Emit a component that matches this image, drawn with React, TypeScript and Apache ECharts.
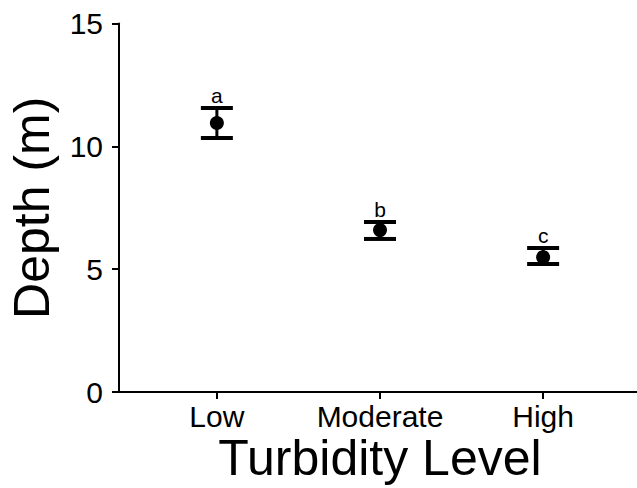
import React, { useEffect, useRef } from "react";
import * as echarts from "echarts";

const categories = ["Low", "Moderate", "High"];
const means = [10.95, 6.59, 5.49];
const lowers = [10.34, 6.23, 5.21];
const uppers = [11.56, 6.92, 5.86];
const letters = ["a", "b", "c"];
const yTicks = [0, 5, 10, 15];

const FONT = "'Liberation Sans', Arial, Helvetica, sans-serif";

export default function App() {
  const ref = useRef<HTMLDivElement>(null);

  useEffect(() => {
    if (!ref.current) return;
    const chart = echarts.init(ref.current, undefined, { renderer: "svg" });

    const errData = categories.map((c, i) => [i + 1, lowers[i], uppers[i], i]);
    const pointData = categories.map((c, i) => [i + 1, means[i]]);

    const option: any = {
      animation: false,
      backgroundColor: "#ffffff",
      grid: { left: 119, right: 0, top: 23.5, bottom: 96, containLabel: false, outerBoundsMode: "none" },
      xAxis: {
        type: "value",
        min: 0.4,
        max: 3.6,
        name: "Turbidity Level",
        nameLocation: "middle",
        nameGap: 41,
        nameMoveOverlap: false,
        nameTextStyle: { fontFamily: FONT, fontSize: 50, color: "#000", lineHeight: 50 },
        splitLine: { show: false },
        axisLine: { onZero: false, lineStyle: { color: "#000", width: 2 } },
        axisTick: { show: true, customValues: [1, 2, 3], length: 7, lineStyle: { color: "#000", width: 2 } },
        axisLabel: {
          customValues: [1, 2, 3],
          formatter: (v: number) => categories[Math.round(v) - 1] ?? "",
          fontFamily: FONT,
          fontSize: 30,
          lineHeight: 30,
          color: "#000",
          margin: 9,
        },
      },
      yAxis: {
        type: "value",
        min: 0,
        max: 15,
        interval: 5,
        name: "Depth (m)",
        nameLocation: "middle",
        nameRotate: 90,
        nameGap: 62,
        nameMoveOverlap: false,
        nameTextStyle: { fontFamily: FONT, fontSize: 50, color: "#000" },
        splitLine: { show: false },
        axisLine: { show: true, onZero: false, lineStyle: { color: "#000", width: 2 } },
        axisTick: { show: true, length: 7, lineStyle: { color: "#000", width: 2 } },
        axisLabel: {
          fontFamily: FONT,
          fontSize: 30,
          color: "#000",
          margin: 16,
          formatter: (v: number) => (yTicks.includes(v) ? String(v) : ""),
        },
      },
      series: [
        {
          type: "custom",
          data: errData,
          renderItem: (params: any, api: any) => {
            const x = api.value(0);
            const lo = api.coord([x, api.value(1)]);
            const hi = api.coord([x, api.value(2)]);
            const idx = api.value(3);
            const hw = 16;
            const style = { stroke: "#000", lineWidth: 4 };
            return {
              type: "group",
              children: [
                { type: "line", shape: { x1: lo[0], y1: lo[1], x2: hi[0], y2: hi[1] }, style: { stroke: "#000", lineWidth: 3 } },
                { type: "line", shape: { x1: lo[0] - hw, y1: lo[1], x2: lo[0] + hw, y2: lo[1] }, style },
                { type: "line", shape: { x1: hi[0] - hw, y1: hi[1], x2: hi[0] + hw, y2: hi[1] }, style },
                {
                  type: "text",
                  x: hi[0],
                  y: hi[1] - 2,
                  style: {
                    text: letters[idx],
                    fontFamily: FONT,
                    fontSize: 21,
                    fill: "#000",
                    align: "center",
                    verticalAlign: "bottom",
                  },
                },
              ],
            };
          },
          z: 2,
        },
        {
          type: "scatter",
          data: pointData,
          symbol: "circle",
          symbolSize: 14,
          itemStyle: { color: "#000", opacity: 1 },
          z: 3,
        },
      ],
    };

    chart.setOption(option);
    return () => chart.dispose();
  }, []);

  return (
    <div style={{ position: "absolute", left: 0, top: 0, width: 637, height: 488, overflow: "hidden", background: "#fff" }}>
      <div ref={ref} style={{ width: 641, height: 488 }} />
    </div>
  );
}
